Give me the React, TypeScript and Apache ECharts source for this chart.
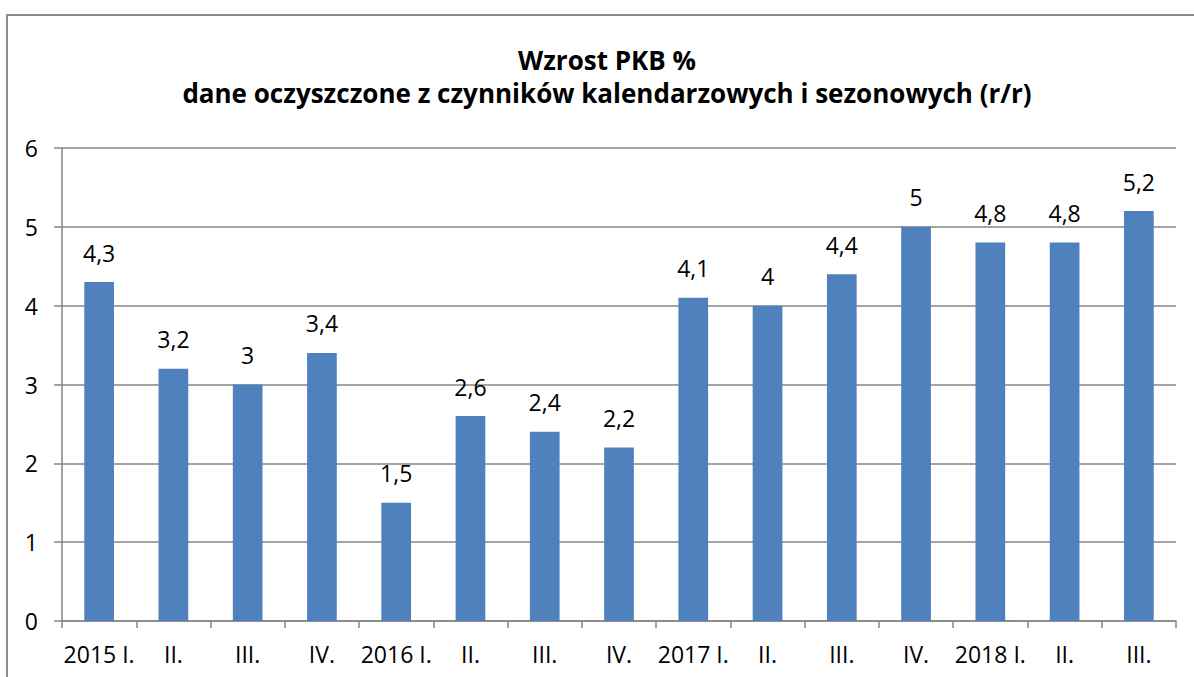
import React, { useEffect, useRef } from "react";
import * as echarts from "echarts";

const titleLines = ["Wzrost PKB %", "dane oczyszczone z czynników kalendarzowych i sezonowych (r/r)"];
const categories = [
  "2015 I.", "II.", "III.", "IV.",
  "2016 I.", "II.", "III.", "IV.",
  "2017 I.", "II.", "III.", "IV.",
  "2018 I.", "II.", "III.",
];
const values = [4.3, 3.2, 3, 3.4, 1.5, 2.6, 2.4, 2.2, 4.1, 4, 4.4, 5, 4.8, 4.8, 5.2];
const yMin = 0;
const yMax = 6;
const yStep = 1;

const FONT = "'Open Sans', 'Noto Sans', sans-serif";
const GREY = "#868686";

export default function App() {
  const ref = useRef<HTMLDivElement>(null);
  useEffect(() => {
    if (!ref.current) return;
    const chart = echarts.init(ref.current, null, { renderer: "svg" });
    chart.setOption({
      animation: false,
      backgroundColor: "#ffffff",
      textStyle: { fontFamily: FONT },
      graphic: [
        {
          type: "rect",
          shape: { x: 7, y: 15, width: 1300, height: 800 },
          style: { fill: "none", stroke: "#8c8c8c", lineWidth: 2 },
          silent: true,
        },
      ],
      title: {
        text: titleLines.join("\n"),
        left: 602,
        textAlign: "center",
        top: 38,
        textStyle: {
          fontFamily: FONT,
          fontWeight: "bold",
          fontSize: 26,
          lineHeight: 33,
          color: "#000000",
        },
      },
      grid: { left: 62, right: 18, top: 148, bottom: 56, containLabel: false },
      xAxis: {
        type: "category",
        data: categories,
        boundaryGap: true,
        axisLine: { show: true, lineStyle: { color: GREY, width: 1.5 } },
        axisTick: { show: true, interval: 0, length: 7, lineStyle: { color: GREY, width: 1.5 } },
        axisLabel: {
          interval: 0,
          color: "#000000",
          fontFamily: FONT,
          fontSize: 23,
          margin: 21,
        },
        splitLine: { show: false },
      },
      yAxis: {
        type: "value",
        min: yMin,
        max: yMax,
        interval: yStep,
        axisLine: { show: true, lineStyle: { color: GREY, width: 1.5 } },
        axisTick: { show: true, length: 8, lineStyle: { color: GREY, width: 1.5 } },
        axisLabel: {
          color: "#000000",
          fontFamily: FONT,
          fontSize: 23,
          margin: 24,
        },
        splitLine: { show: true, lineStyle: { color: GREY, width: 1.5 } },
      },
      series: [
        {
          type: "bar",
          data: values,
          barWidth: "40%",
          itemStyle: { color: "#4F81BD" },
          label: {
            show: true,
            position: "top",
            distance: 18,
            color: "#000000",
            fontFamily: FONT,
            fontSize: 23,
            formatter: (p: any) => String(p.value).replace(".", ","),
          },
        },
      ],
    });
    return () => chart.dispose();
  }, []);
  return (
    <div
      ref={ref}
      style={{ position: "absolute", left: 0, top: 0, width: 1194, height: 677 }}
    />
  );
}
